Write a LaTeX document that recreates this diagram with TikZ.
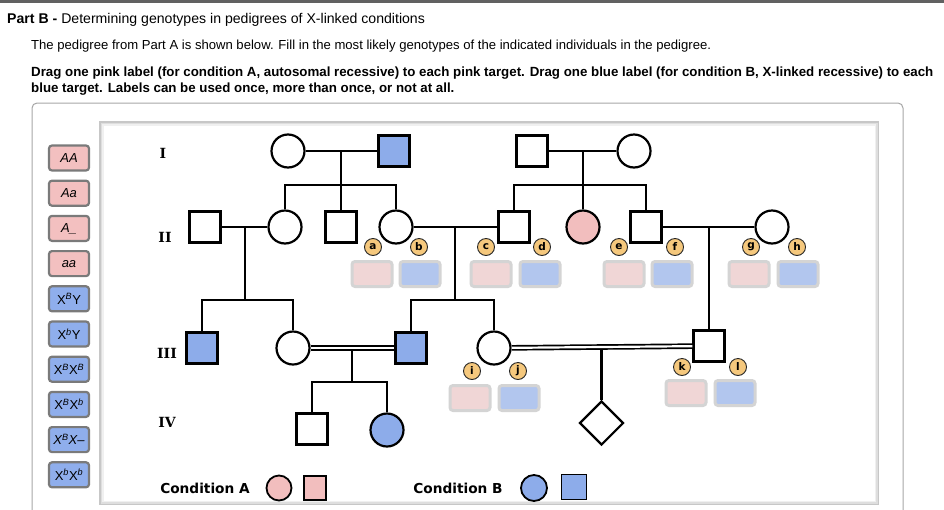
\documentclass[tikz,border=0pt]{standalone}
\usepackage{fontspec}
\setmainfont{Liberation Sans}
\newfontfamily\verdfont{DejaVu Sans}
\newfontfamily\genfont{DejaVu Serif}
\usepackage{xcolor}
\usetikzlibrary{shapes.geometric, positioning, calc}

\definecolor{pedblue}{RGB}{141,172,234}
\definecolor{pedpink}{RGB}{242,190,190}
\definecolor{slotpink}{RGB}{240,214,214}
\definecolor{slotblue}{RGB}{178,198,238}
\definecolor{tagorange}{RGB}{245,200,125}
\definecolor{btnpink}{RGB}{243,192,192}
\definecolor{btnblue}{RGB}{143,174,236}

\tikzstyle{male} = [rectangle, draw=black, line width=2.2pt, minimum size=31pt, inner sep=0pt, fill=white]
\tikzstyle{female} = [circle, draw=black, line width=2.2pt, minimum size=33pt, inner sep=0pt, fill=white]
\tikzstyle{unknown} = [diamond, aspect=1, draw=black, line width=2.2pt, minimum size=44pt, inner sep=0pt, fill=white]
\tikzstyle{aff-a} = [fill=pedpink]
\tikzstyle{aff-b} = [fill=pedblue]
\tikzstyle{link} = [line width=2.2pt]
\tikzstyle{kin} = [double, line width=1.7pt, double distance=2.2pt]
\tikzstyle{gen} = [font=\genfont\bfseries\fontsize{14}{14}\selectfont]
\tikzstyle{tag} = [circle, draw=black!85, line width=0.9pt, fill=tagorange, minimum size=17pt, inner sep=0pt, font=\verdfont\bfseries\fontsize{10.5}{10.5}\selectfont]
\tikzstyle{slot-a} = [rectangle, rounded corners=3pt, draw=black!17, line width=3pt, fill=slotpink, minimum width=40pt, minimum height=25pt]
\tikzstyle{slot-b} = [rectangle, rounded corners=3pt, draw=black!17, line width=3pt, fill=slotblue, minimum width=40pt, minimum height=25pt]
\tikzstyle{label-a} = [rectangle, rounded corners=3pt, draw=black!52, line width=2.2pt, fill=btnpink, minimum width=40pt, minimum height=25pt, inner sep=1pt, font=\fontsize{13}{13}\selectfont]
\tikzstyle{label-b} = [rectangle, rounded corners=3pt, draw=black!52, line width=2.2pt, fill=btnblue, minimum width=40pt, minimum height=25pt, inner sep=1pt, font=\fontsize{13}{13}\selectfont]
\tikzstyle{key} = [font=\verdfont\bfseries\fontsize{13.7}{14}\selectfont]

\begin{document}
\begin{tikzpicture}[x=1pt, y=-1pt]

\useasboundingbox (0,0) rectangle (944,509);
\fill[black!62] (0,0) rectangle (944,2.5);

% Header
\node (title) [anchor=base west, inner sep=0pt, font=\fontsize{14.1}{16}\selectfont] at (7,23) {\textbf{Part B -} Determining genotypes in pedigrees of X-linked conditions};
\node (intro) [anchor=base west, inner sep=0pt, font=\fontsize{13.1}{15}\selectfont] at (31,49) {The pedigree from Part A is shown below. Fill in the most likely genotypes of the indicated individuals in the pedigree.};
\node (task-1) [anchor=base west, inner sep=0pt, font=\bfseries\fontsize{13.3}{15}\selectfont] at (31,76) {Drag one pink label (for condition A, autosomal recessive) to each pink target. Drag one blue label (for condition B, X-linked recessive) to each};
\node (task-2) [anchor=base west, inner sep=0pt, font=\bfseries\fontsize{13.3}{15}\selectfont] at (31,92) {blue target. Labels can be used once, more than once, or not at all.};

% Panels
\draw[black!35, line width=1pt, rounded corners=5pt] (32,103) rectangle (903,540);
\fill[black!22] (99,121) rectangle (879,505);
\fill[black!13] (100.5,122.5) rectangle (877.5,503.5);
\fill[black!6] (102,124) rectangle (876,502);
\fill[white] (103.5,125.5) rectangle (874.5,500.5);

% Labels
\node (btn-AA) [label-a] at (69,158) {\textit{AA}};
\node (btn-Aa) [label-a, below=8pt of btn-AA] {\textit{Aa}};
\node (btn-A_) [label-a, below=8pt of btn-Aa] {\textit{A\_}};
\node (btn-aa) [label-a, below=8pt of btn-A_] {\textit{aa}};
\node (btn-XBY) [label-b, below=8pt of btn-aa] {X\textsuperscript{\textit{B}}Y};
\node (btn-XbY) [label-b, below=8pt of btn-XBY] {X\textsuperscript{\textit{b}}Y};
\node (btn-XBXB) [label-b, below=8pt of btn-XbY] {X\textsuperscript{\textit{B}}X\textsuperscript{\textit{B}}};
\node (btn-XBXb) [label-b, below=8pt of btn-XBXB] {X\textsuperscript{\textit{B}}X\textsuperscript{\textit{b}}};
\node (btn-XBX-) [label-b, below=8pt of btn-XBXb] {\textit{X\textsuperscript{B}X–}};
\node (btn-XbXb) [label-b, below=8pt of btn-XBX-] {X\textsuperscript{\textit{b}}X\textsuperscript{\textit{b}}};

% Generations
\node (gen-I) [gen] at (163,153) {I};
\node (gen-II) [gen] at (165,237) {II};
\node (gen-III) [gen] at (167,353) {III};
\node (gen-IV) [gen] at (167,422) {IV};

% Generation I
\node (I-1) [female] at (288,151) {};
\node (I-2) [male, aff-b] at (394,151) {};
\node (I-3) [male] at (532,151) {};
\node (I-4) [female] at (634,151) {};

% Generation II
\node (II-1) [male] at (205,227) {};
\node (II-2) [female] at (285,227) {};
\node (II-3) [male] at (341,227) {};
\node (II-4) [female] at (396,227) {};
\node (II-5) [male] at (514,227) {};
\node (II-6) [female, aff-a] at (583,227) {};
\node (II-7) [male] at (646,227) {};
\node (II-8) [female] at (772,227) {};

% Generation III
\node (III-1) [male, aff-b] at (202,348) {};
\node (III-2) [female] at (293,348) {};
\node (III-3) [male, aff-b] at (411,348) {};
\node (III-4) [female] at (494,348) {};
\node (III-5) [male] at (709,346) {};

% Couples and sibships
\draw [link] (I-1) -- (I-2);
\coordinate (fam-1) at ($(I-1)!.5!(I-2)$);
\coordinate (sib-1) at (fam-1 |- 0,185);
\draw [link] (fam-1) -- (sib-1);
\draw [link] (II-2.north) |- (sib-1) -| (II-4.north);
\draw [link] (sib-1) -| (II-3.north);

\draw [link] (I-3) -- (I-4);
\coordinate (fam-2) at ($(I-3)!.5!(I-4)$);
\coordinate (sib-2) at (fam-2 |- 0,185);
\draw [link] (fam-2) -- (sib-2);
\draw [link] (II-5.north) |- (sib-2) -| (II-7.north);
\draw [link] (sib-2) -| (II-6.north);

\draw [link] (II-1) -- (II-2);
\coordinate (fam-3) at ($(II-1)!.5!(II-2)$);
\coordinate (sib-3) at (fam-3 |- 0,300);
\draw [link] (fam-3) -- (sib-3);
\draw [link] (III-1.north) |- (sib-3) -| (III-2.north);

\draw [link] (II-4) -- (II-5);
\coordinate (fam-4) at ($(II-4)!.5!(II-5)$);
\coordinate (sib-4) at (fam-4 |- 0,300);
\draw [link] (fam-4) -- (sib-4);
\draw [link] (III-3.north) |- (sib-4) -| (III-4.north);

\draw [link] (II-7) -- (II-8);
\coordinate (fam-5) at ($(II-7)!.5!(II-8)$);
\draw [link] (fam-5) -- (fam-5 |- III-5.north);

% Generation IV
\node (IV-1) [male] at (312,429) {};
\node (IV-2) [female, aff-b] at (387,430) {};
\draw [kin] (III-2) -- (III-3);
\coordinate (fam-6) at ($(III-2)!.5!(III-3)$);
\coordinate (sib-6) at (fam-6 |- 0,382);
\draw [link] ([yshift=-2.8pt]fam-6) -- (sib-6);
\draw [link] (IV-1.north) |- (sib-6) -| (IV-2.north);

\draw [kin] (III-4) -- (III-5);
\coordinate (fam-7) at ($(III-4)!.5!(III-5)$);
\node (IV-3) [unknown] at (fam-7 |- 0,423) {};
\draw [link] ([yshift=-2.8pt]fam-7) -- (IV-3.north);

% Targets
\node (tag-a) [tag] at (373,247) {a};
\node (tag-b) [tag] at (419,247) {b};
\node (tag-c) [tag] at (486,247) {c};
\node (tag-d) [tag] at (542,247) {d};
\node (tag-e) [tag] at (619,247) {e};
\node (tag-f) [tag] at (675,247) {f};
\node (tag-g) [tag] at (751,247) {g};
\node (tag-h) [tag] at (797,247) {h};
\node (tag-i) [tag] at (472,371) {i};
\node (tag-j) [tag] at (518,371) {j};
\node (tag-k) [tag] at (682,367) {k};
\node (tag-l) [tag] at (738,367) {l};

\node (slot-a) [slot-a] at (372,274) {};
\node (slot-b) [slot-b] at (420,274) {};
\node (slot-c) [slot-a] at (491,274) {};
\node (slot-d) [slot-b] at (540,274) {};
\node (slot-e) [slot-a] at (624,274) {};
\node (slot-f) [slot-b] at (672,274) {};
\node (slot-g) [slot-a] at (749,274) {};
\node (slot-h) [slot-b] at (798,274) {};
\node (slot-i) [slot-a] at (470,398) {};
\node (slot-j) [slot-b] at (519,398) {};
\node (slot-k) [slot-a] at (686,393) {};
\node (slot-l) [slot-b] at (735,393) {};

% Key
\node (key-a) [key] at (205,488) {Condition A};
\node (key-a-f) [female, aff-a, minimum size=25pt, line width=1.8pt] at (279,488) {};
\node (key-a-m) [male, aff-a, minimum width=22pt, minimum height=24pt, line width=1.8pt] at (315,488) {};
\node (key-b) [key] at (458,488) {Condition B};
\node (key-b-f) [female, aff-b, minimum size=26pt, line width=1.8pt] at (534,488) {};
\node (key-b-m) [male, aff-b, minimum size=25pt, line width=1.8pt] at (574,487) {};

\end{tikzpicture}
\end{document}
